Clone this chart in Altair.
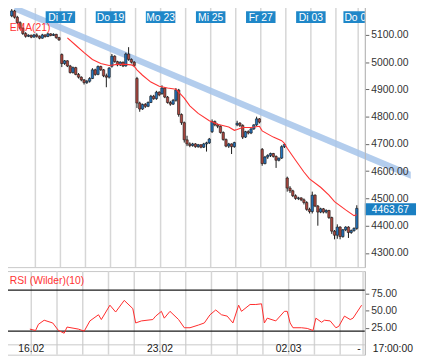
import altair as alt
import pandas as pd

# ---------------- data ----------------
# hourly candles, Fr 13.02 .. Mi 04.03 (index 0..124)
opens = [5170, 5188, 5165, 5145, 5125, 5105, 5095, 5099, 5092,
         5100, 5095, 5088, 5100, 5094, 5104, 5098, 5102, 5090,
         5028, 4995, 5005, 4986, 4962, 4980, 4955, 4945, 4935,
         4925, 4930, 4940, 4972, 4955, 4984, 4972, 4950, 4945,
         4985, 5022, 5002, 4990, 5000, 4986, 5030, 5010, 5000,
         4940, 4850, 4828, 4845, 4838, 4852, 4875, 4866, 4890,
         4885, 4905, 4872, 4852, 4846, 4860, 4898, 4808, 4778,
         4715, 4700, 4694, 4700, 4690, 4697, 4688, 4700, 4704,
         4745, 4782, 4770, 4765, 4742, 4716, 4692, 4700, 4690,
         4770, 4776, 4768, 4725, 4745, 4740, 4755, 4770, 4792,
         4680, 4628, 4652, 4658, 4665, 4654, 4640, 4648, 4690,
         4575, 4538, 4528, 4510, 4500, 4502, 4495, 4485, 4460,
         4452, 4512, 4472, 4450, 4462, 4450, 4456, 4430, 4380,
         4365, 4395, 4360, 4385, 4395, 4375, 4382, 4390]
highs = [5195, 5192, 5170, 5150, 5128, 5110, 5102, 5101, 5104,
         5106, 5098, 5104, 5102, 5108, 5106, 5106, 5104, 5093,
         5032, 5008, 5007, 4990, 4984, 4983, 4960, 4948, 4938,
         4935, 4945, 4978, 4976, 4988, 4987, 4975, 4958, 4982,
         5030, 5025, 5005, 5003, 5002, 5035, 5055, 5014, 5004,
         4946, 4855, 4848, 4850, 4856, 4880, 4880, 4895, 4893,
         4915, 4908, 4876, 4858, 4865, 4905, 4902, 4812, 4782,
         4730, 4706, 4704, 4703, 4700, 4699, 4704, 4708, 4722,
         4790, 4786, 4775, 4768, 4746, 4720, 4704, 4702, 4708,
         4785, 4780, 4772, 4748, 4750, 4758, 4772, 4800, 4795,
         4685, 4656, 4662, 4668, 4667, 4658, 4650, 4695, 4703,
         4580, 4545, 4532, 4515, 4506, 4504, 4500, 4490, 4466,
         4525, 4515, 4476, 4466, 4465, 4460, 4458, 4433, 4384,
         4405, 4398, 4388, 4398, 4398, 4386, 4394, 4475]
lows = [5165, 5160, 5140, 5120, 5100, 5090, 5092, 5088, 5090,
        5090, 5084, 5086, 5090, 5092, 5095, 5096, 5086, 5078,
        4982, 4990, 4982, 4958, 4958, 4952, 4940, 4930, 4918,
        4920, 4925, 4938, 4950, 4952, 4968, 4945, 4908, 4940,
        4980, 4998, 4985, 4986, 4982, 4984, 5005, 4995, 4982,
        4832, 4818, 4825, 4832, 4835, 4850, 4862, 4862, 4875,
        4880, 4868, 4848, 4840, 4843, 4855, 4800, 4770, 4705,
        4692, 4688, 4690, 4686, 4686, 4684, 4685, 4672, 4700,
        4740, 4765, 4758, 4738, 4712, 4688, 4685, 4663, 4686,
        4765, 4762, 4718, 4722, 4735, 4736, 4752, 4766, 4775,
        4620, 4625, 4645, 4652, 4650, 4612, 4636, 4645, 4685,
        4525, 4520, 4505, 4495, 4494, 4490, 4478, 4455, 4445,
        4445, 4468, 4400, 4446, 4445, 4445, 4425, 4370, 4350,
        4352, 4350, 4356, 4380, 4355, 4370, 4378, 4385]
closes = [5188, 5165, 5145, 5125, 5105, 5095, 5099, 5092, 5100,
          5095, 5088, 5100, 5094, 5104, 5098, 5102, 5090, 5082,
          4995, 5005, 4986, 4962, 4980, 4955, 4945, 4935, 4925,
          4930, 4940, 4972, 4955, 4984, 4972, 4950, 4945, 4978,
          5022, 5002, 4990, 5000, 4986, 5030, 5010, 5000, 4988,
          4850, 4828, 4845, 4838, 4852, 4875, 4866, 4890, 4880,
          4905, 4872, 4852, 4846, 4860, 4898, 4808, 4778, 4715,
          4700, 4694, 4700, 4690, 4697, 4688, 4700, 4704, 4718,
          4782, 4770, 4765, 4742, 4716, 4692, 4700, 4690, 4705,
          4776, 4768, 4725, 4745, 4740, 4755, 4770, 4792, 4780,
          4628, 4652, 4658, 4665, 4654, 4640, 4648, 4690, 4698,
          4538, 4528, 4510, 4500, 4502, 4495, 4485, 4460, 4452,
          4512, 4472, 4450, 4462, 4450, 4456, 4430, 4380, 4365,
          4395, 4360, 4385, 4395, 4375, 4382, 4390, 4463.67]

# EMA(21) (candle index, value)
ema_idx = [20, 23, 26, 29, 32, 35, 38, 41, 43, 44, 45, 47, 50, 53, 56, 59, 62, 64,
           67, 71, 74, 78, 80, 81, 83, 86, 89, 90, 94, 97, 98, 99, 102, 105, 107,
           111, 114, 116, 120, 123, 124]
ema_val = [5089, 5062, 5035, 5010, 4995, 4988, 4992, 4992, 4990, 4985, 4972, 4952,
           4927, 4912, 4905, 4901, 4868, 4840, 4812, 4785, 4772, 4762, 4750, 4753,
           4760, 4760, 4765, 4748, 4725, 4712, 4702, 4684, 4640, 4597, 4572, 4541,
           4512, 4488, 4458, 4437, 4440]

# RSI (Wilder)(10) (candle index, value)
rsi_idx = [8, 10, 11, 13, 16, 18, 20, 21, 25, 27, 29, 32, 33, 36, 38, 41, 44, 45, 47,
           51, 52, 54, 55, 57, 60, 62, 64, 67, 69, 71, 73, 75, 77, 79, 81, 82, 85, 87,
           89, 90, 91, 94, 97, 98, 99, 100, 103, 105, 107, 108, 110, 111, 113, 115,
           116, 118, 120, 121, 124]
rsi_val = [23, 21, 30, 36, 32, 21, 17, 26, 23, 20, 35, 44, 37, 58, 48, 65, 53, 32, 35,
           37, 42, 49, 39, 49, 37, 25, 25, 29, 32, 44, 51, 44, 42, 32, 58, 49, 59, 59,
           60, 32, 39, 35, 49, 49, 32, 25, 25, 24, 21, 39, 33, 36, 35, 25,
           27, 42, 37, 39, 58]

# trend line (slot units, price)
trend_slot = [1.45, 143.9]
trend_price = [5198, 4585]

day_start_slots = [9, 18, 27, 36, 45, 54, 63, 72, 81, 90, 99, 108, 117, 125]
top_labels = ["Di 17", "Do 19", "Mo 23", "Mi 25", "Fr 27", "Di 03", "Do 05"]
top_label_slots = [18, 36, 54, 72, 90, 108, 125]
bottom_labels = ["16.02", "23.02", "02.03"]
bottom_label_slots = [9, 54, 99]
price_ticks = [4300, 4400, 4500, 4600, 4700, 4800, 4900, 5000, 5100]
rsi_ticks = [25, 50, 75]
rsi_levels = [20, 80]

# ---------------- chart ----------------
FONT = "Liberation Sans"
W, H1, H2 = 370, 268, 85
xsc = alt.Scale(domain=[-1.65, 125.63], nice=False, zero=False)
ysc = alt.Scale(domain=[4248, 5215.5], nice=False, zero=False)
rsc = alt.Scale(domain=[-14.4, 107.9], nice=False, zero=False)

def yaxis(vals):
    return alt.Axis(orient="right", values=vals, format=".2f", title=None, grid=False,
                    labelFontSize=10.5, labelColor="#333333", labelFont=FONT,
                    tickColor="#666666", tickSize=4, labelPadding=2,
                    domainColor="#b8b8b8", zindex=1)

pax = yaxis(price_ticks)
rax = yaxis(rsi_ticks)
X = alt.X("slot:Q", scale=xsc, axis=None)

candles = pd.DataFrame({"idx": list(range(len(closes))), "open": opens,
                        "high": highs, "low": lows, "close": closes})
base = alt.Chart(candles).transform_calculate(
    slot="datum.idx + 0.5",
    dir="datum.close >= datum.open ? 'up' : 'down'")

grid_df = pd.DataFrame({"slot": day_start_slots})
grid = alt.Chart(grid_df).mark_rule(color="#d6d6d6", strokeWidth=1.5).encode(x=X)

# trend band drawn as a thin filled band (no stroke)
trend = alt.Chart(pd.DataFrame({"slot": trend_slot, "price": trend_price})).transform_calculate(
    upper="datum.price + 12.5", lower="datum.price - 12.5"
).mark_area(color="#a6c4ea", opacity=0.85, clip=False).encode(
    x=X, y=alt.Y("upper:Q", scale=ysc, axis=pax), y2="lower:Q")

wick = base.mark_rule(color="#1a1a1a", strokeWidth=1).encode(
    x=X, y=alt.Y("low:Q", scale=ysc, axis=pax), y2="high:Q")
body = base.mark_bar(size=2.4, stroke="#1a1a1a", strokeWidth=0.6).encode(
    x=X, y=alt.Y("open:Q", scale=ysc, axis=pax), y2="close:Q",
    color=alt.Color("dir:N", scale=alt.Scale(domain=["up", "down"],
                                             range=["#2474bd", "#ad4840"]), legend=None))

ema = alt.Chart(pd.DataFrame({"idx": ema_idx, "val": ema_val})).transform_calculate(
    slot="datum.idx + 0.5").mark_line(color="#ff3333", strokeWidth=1.1).encode(
    x=X, y=alt.Y("val:Q", scale=ysc, axis=pax))

ema_lab = alt.Chart(pd.DataFrame({"t": ["EMA(21)"]})).mark_text(
    color="#ff3333", fontSize=10.5, font=FONT, align="left", baseline="middle"
).encode(x=alt.value(9), y=alt.value(25), text="t:N")

tl_df = pd.DataFrame({"slot": top_label_slots, "label": top_labels})
tl_box = alt.Chart(tl_df).transform_calculate(
    a="datum.slot - 5.3", b="datum.slot + 5.3").mark_rect(
    color="#1f87c8", clip=True).encode(
    x=alt.X("a:Q", scale=xsc, axis=None), x2="b:Q", y=alt.value(8), y2=alt.value(20))
tl_text = alt.Chart(tl_df).mark_text(
    color="white", fontSize=10.5, font=FONT, baseline="middle", clip=True
).encode(x=X, y=alt.value(14.5), text="label:N")

last_df = pd.DataFrame({"close": [closes[-1]], "label": [f"{closes[-1]:.2f}"]})
last_box = alt.Chart(last_df).transform_calculate(
    a="datum.close + 19", b="datum.close - 25").mark_rect(color="#1a7fc2").encode(
    x=alt.value(W), x2=alt.value(W + 52), y=alt.Y("a:Q", scale=ysc, axis=pax), y2="b:Q")
last_text = alt.Chart(last_df).mark_text(
    color="white", fontSize=10.5, font=FONT, align="left", baseline="middle", dy=1.5
).encode(x=alt.value(W + 7), y=alt.Y("close:Q", scale=ysc, axis=pax), text="label:N")

top = alt.layer(grid, trend, wick, body, ema, ema_lab, tl_box, tl_text,
                last_box, last_text).properties(width=W, height=H1)

# RSI panel
sep = alt.Chart(pd.DataFrame({"v": [0]})).mark_rule(color="#c8c8c8", strokeWidth=1).encode(
    y=alt.Y("v:Q", scale=rsc, axis=rax))
levels = alt.Chart(pd.DataFrame({"v": rsi_levels})).mark_rule(
    color="#1a1a1a", strokeWidth=1.3).encode(y=alt.Y("v:Q", scale=rsc, axis=rax))
rsi = alt.Chart(pd.DataFrame({"idx": rsi_idx, "val": rsi_val})).transform_calculate(
    slot="datum.idx + 0.5").mark_line(color="#ff2a2a", strokeWidth=1).encode(
    x=X, y=alt.Y("val:Q", scale=rsc, axis=rax))
rsi_lab = alt.Chart(pd.DataFrame({"t": ["RSI (Wilder)(10)"]})).mark_text(
    color="#ff3333", fontSize=10.5, font=FONT, align="left", baseline="middle"
).encode(x=alt.value(9), y=alt.value(10), text="t:N")
bl = alt.Chart(pd.DataFrame({"slot": bottom_label_slots, "label": bottom_labels})).mark_text(
    color="#222222", fontSize=10.5, font=FONT, baseline="middle"
).encode(x=X, y=alt.value(79.5), text="label:N")
dash = alt.Chart(pd.DataFrame({"t": ["-"]})).mark_text(
    color="#222222", fontSize=10.5, font=FONT, baseline="middle"
).encode(x=alt.value(W - 6), y=alt.value(79.5), text="t:N")
tlab = alt.Chart(pd.DataFrame({"t": ["17:00:00"]})).mark_text(
    color="#222222", fontSize=10.5, font=FONT, align="left", baseline="middle"
).encode(x=alt.value(W + 8), y=alt.value(79.5), text="t:N")

bottom = alt.layer(grid, sep, levels, rsi, rsi_lab, bl, dash, tlab).properties(
    width=W, height=H2)

chart = alt.vconcat(top, bottom, spacing=0).properties(
    padding={"left": -9.3, "top": -9.5, "right": 0, "bottom": -1.5}
).configure(font=FONT).configure_view(stroke="#c8c8c8", strokeWidth=1)

chart.save("out.html", embed_options={"renderer": "svg", "actions": False})
